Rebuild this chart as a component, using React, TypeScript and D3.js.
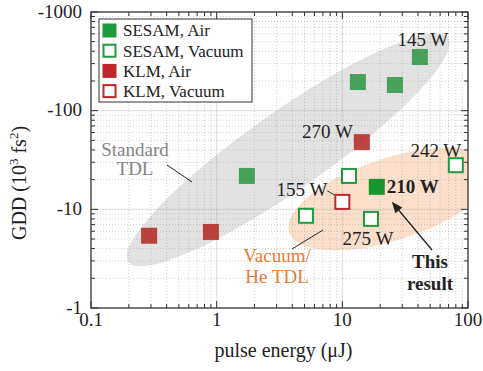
import * as d3 from 'd3'
import { useEffect, useRef } from 'react'

// pulse energy (uJ) and GDD (10^3 fs^2)
const sesamAirEnergy = [1.74, 13.3, 26.2, 41.4]
const sesamAirGdd = [-21.8, -195, -182, -350]
const sesamVacEnergy = [5.13, 11.3, 16.9, 80]
const sesamVacGdd = [-8.6, -21.8, -8.0, -28]
const klmAirEnergy = [0.29, 0.9, 14.3]
const klmAirGdd = [-5.4, -5.9, -48]
const klmVacEnergy = [10]
const klmVacGdd = [-11.9]
const thisEnergy = [18.8]
const thisGdd = [-16.9]

const xTicks = [0.1, 1, 10, 100]
const xTickLabels = ['0.1', '1', '10', '100']
const yTicks = [-1, -10, -100, -1000]
const yTickLabels = ['-1', '-10', '-100', '-1000']

const legendLabels = ['SESAM, Air', 'SESAM, Vacuum', 'KLM, Air', 'KLM, Vacuum']

const GREEN = '#1f9a3c'
const RED = '#c0262c'
const FONT = "'Liberation Serif', 'Times New Roman', serif"

export default function App() {
  const svgRef = useRef<SVGSVGElement | null>(null)

  useEffect(() => {
    if (!svgRef.current) return
    const svg = d3.select(svgRef.current)
    svg.selectAll('*').remove()

    const width = 483
    const height = 371
    const margin = { top: 12, right: 15, bottom: 63, left: 91 }
    const left = margin.left
    const right = width - margin.right
    const top = margin.top
    const bottom = height - margin.bottom

    const x = d3.scaleLog().domain([0.1, 100]).range([left, right])
    const y = d3.scaleLog().domain([-1, -1000]).range([bottom, top])

    svg.attr('font-family', FONT)

    svg.append('defs').append('clipPath').attr('id', 'plotclip')
      .append('rect')
      .attr('x', left).attr('y', top)
      .attr('width', right - left).attr('height', bottom - top)

    // shaded regions
    const regions = svg.append('g').attr('clip-path', 'url(#plotclip)')
    regions.append('ellipse')
      .attr('rx', 195).attr('ry', 39)
      .attr('transform', `translate(${x(3.7)},${y(-40)}) rotate(-35)`)
      .attr('fill', '#e2e2e2')
    regions.append('ellipse')
      .attr('rx', 108).attr('ry', 41)
      .attr('transform', `translate(${x(24.8)},${y(-12.7)}) rotate(-18)`)
      .attr('fill', '#fbdfcb')

    // grid
    const minorX: number[] = []
    ;[0.1, 1, 10].forEach((d) => d3.range(2, 10).forEach((k) => minorX.push(d * k)))
    const minorY: number[] = []
    ;[1, 10, 100].forEach((d) => d3.range(2, 10).forEach((k) => minorY.push(-d * k)))

    const grid = svg.append('g')
    grid.selectAll('line.mx').data(minorX).join('line')
      .attr('x1', (d) => x(d)).attr('x2', (d) => x(d))
      .attr('y1', top).attr('y2', bottom)
      .attr('stroke', 'rgba(150,150,150,0.45)').attr('stroke-dasharray', '1,2')
    grid.selectAll('line.my').data(minorY).join('line')
      .attr('y1', (d) => y(d)).attr('y2', (d) => y(d))
      .attr('x1', left).attr('x2', right)
      .attr('stroke', 'rgba(150,150,150,0.45)').attr('stroke-dasharray', '1,2')
    grid.selectAll('line.Mx').data(xTicks.slice(1, -1)).join('line')
      .attr('x1', (d) => x(d)).attr('x2', (d) => x(d))
      .attr('y1', top).attr('y2', bottom)
      .attr('stroke', 'rgba(170,170,170,0.4)')
    grid.selectAll('line.My').data(yTicks.slice(1, -1)).join('line')
      .attr('y1', (d) => y(d)).attr('y2', (d) => y(d))
      .attr('x1', left).attr('x2', right)
      .attr('stroke', 'rgba(170,170,170,0.4)')

    // ticks on all four sides, pointing inward
    const ticks = svg.append('g').attr('stroke', '#333').attr('stroke-width', 1)
    const addX = (vals: number[], len: number) => {
      vals.forEach((v) => {
        ticks.append('line').attr('x1', x(v)).attr('x2', x(v)).attr('y1', bottom).attr('y2', bottom - len)
        ticks.append('line').attr('x1', x(v)).attr('x2', x(v)).attr('y1', top).attr('y2', top + len)
      })
    }
    const addY = (vals: number[], len: number) => {
      vals.forEach((v) => {
        ticks.append('line').attr('y1', y(v)).attr('y2', y(v)).attr('x1', left).attr('x2', left + len)
        ticks.append('line').attr('y1', y(v)).attr('y2', y(v)).attr('x1', right).attr('x2', right - len)
      })
    }
    addX(minorX, 4)
    addX(xTicks, 7)
    addY(minorY, 4)
    addY(yTicks, 7)

    svg.append('rect')
      .attr('x', left).attr('y', top)
      .attr('width', right - left).attr('height', bottom - top)
      .attr('fill', 'none').attr('stroke', '#333').attr('stroke-width', 1.3)

    // tick labels
    svg.selectAll('text.xt').data(xTicks).join('text')
      .attr('x', (d) => x(d)).attr('y', bottom + 18)
      .attr('text-anchor', 'middle').attr('font-size', 19).attr('fill', '#222')
      .text((d, i) => xTickLabels[i])
    svg.selectAll('text.yt').data(yTicks).join('text')
      .attr('x', left - 9).attr('y', (d) => y(d) - 1).attr('dy', '0.35em')
      .attr('text-anchor', 'end').attr('font-size', 19).attr('fill', '#222')
      .text((d, i) => yTickLabels[i])

    // axis titles
    svg.append('text')
      .attr('x', (left + right) / 2 + 4).attr('y', 357)
      .attr('text-anchor', 'middle').attr('font-size', 20).attr('fill', '#222')
      .text('pulse energy (\u03bcJ)')
    const yl = svg.append('text')
      .attr('transform', `translate(26,183) rotate(-90)`)
      .attr('text-anchor', 'middle').attr('font-size', 20).attr('fill', '#222')
    yl.append('tspan').text('GDD (10')
    yl.append('tspan').attr('font-size', 13).attr('dy', -8).text('3')
    yl.append('tspan').attr('dy', 8).text(' fs')
    yl.append('tspan').attr('font-size', 13).attr('dy', -8).text('2')
    yl.append('tspan').attr('dy', 8).text(')')

    // markers
    const s = 16
    const pts = (ex: number[], gy: number[]) => ex.map((e, i) => ({ e, g: gy[i] }))
    const marks = svg.append('g')
    const filled = (data: { e: number, g: number }[], color: string, op: number) => {
      marks.selectAll(null).data(data).join('rect')
        .attr('x', (d) => x(d.e) - s / 2).attr('y', (d) => y(d.g) - s / 2)
        .attr('width', s).attr('height', s)
        .attr('fill', color).attr('fill-opacity', op)
    }
    const open = (data: { e: number, g: number }[], color: string) => {
      marks.selectAll(null).data(data).join('rect')
        .attr('x', (d) => x(d.e) - 7).attr('y', (d) => y(d.g) - 7)
        .attr('width', 14).attr('height', 14)
        .attr('fill', 'white').attr('stroke', color).attr('stroke-width', 2)
    }
    filled(pts(sesamAirEnergy, sesamAirGdd), '#2e9440', 0.85)
    filled(pts(klmAirEnergy, klmAirGdd), '#b3261e', 0.85)
    open(pts(sesamVacEnergy, sesamVacGdd), GREEN)
    open(pts(klmVacEnergy, klmVacGdd), RED)
    filled(pts(thisEnergy, thisGdd), '#16962f', 1)

    // annotations
    const ann = svg.append('g').attr('font-size', 19).attr('fill', '#222')
    const P = (e: number, g: number) => [x(e), y(g)]
    const [p145x, p145y] = P(sesamAirEnergy[3], sesamAirGdd[3])
    ann.append('text').attr('x', p145x + 3).attr('y', p145y - 11).attr('text-anchor', 'middle').text('145 W')
    const [p270x, p270y] = P(klmAirEnergy[2], klmAirGdd[2])
    ann.append('text').attr('x', p270x - 9).attr('y', p270y - 4).attr('text-anchor', 'end').text('270 W')
    const [p242x, p242y] = P(sesamVacEnergy[3], sesamVacGdd[3])
    ann.append('text').attr('x', p242x - 20).attr('y', p242y - 8).attr('text-anchor', 'middle').text('242 W')
    const [p155x, p155y] = P(klmVacEnergy[0], klmVacGdd[0])
    ann.append('text').attr('x', p155x - 15).attr('y', p155y - 6).attr('text-anchor', 'end').text('155 W')
    ann.append('line')
      .attr('x1', p155x - 15).attr('y1', p155y - 11).attr('x2', p155x - 8).attr('y2', p155y - 7)
      .attr('stroke', '#333').attr('stroke-width', 1)
    const [p275x, p275y] = P(sesamVacEnergy[2], sesamVacGdd[2])
    ann.append('text').attr('x', p275x - 3).attr('y', p275y + 26).attr('text-anchor', 'middle').text('275 W')
    const [p210x, p210y] = P(thisEnergy[0], thisGdd[0])
    ann.append('text').attr('x', p210x + 10).attr('y', p210y + 6).attr('font-weight', 'bold').text('210 W')
    ann.append('text').attr('x', 430).attr('y', 268).attr('text-anchor', 'middle').attr('font-weight', 'bold').text('This')
    ann.append('text').attr('x', 430).attr('y', 290).attr('text-anchor', 'middle').attr('font-weight', 'bold').text('result')

    // arrow to this result
    const tipX = p210x + 15
    const tipY = p210y + 15
    const tailX = 432
    const tailY = 250
    const ang = Math.atan2(tipY - tailY, tipX - tailX)
    const hl = 11
    const hw = 4.5
    const bx = tipX - hl * Math.cos(ang)
    const by = tipY - hl * Math.sin(ang)
    ann.append('line').attr('x1', tailX).attr('y1', tailY).attr('x2', bx).attr('y2', by)
      .attr('stroke', '#222').attr('stroke-width', 1.3)
    ann.append('path')
      .attr('d', `M${tipX},${tipY}L${bx - hw * Math.sin(ang)},${by + hw * Math.cos(ang)}L${bx + hw * Math.sin(ang)},${by - hw * Math.cos(ang)}Z`)
      .attr('fill', '#222')

    // region labels
    const std = svg.append('g').attr('font-size', 19).attr('fill', '#858585').attr('text-anchor', 'middle')
    std.append('text').attr('x', 135).attr('y', 156).text('Standard')
    std.append('text').attr('x', 135).attr('y', 175).text('TDL')
    svg.append('line').attr('x1', 167).attr('y1', 165).attr('x2', 192).attr('y2', 182)
      .attr('stroke', '#222').attr('stroke-width', 1)
    const vac = svg.append('g').attr('font-size', 19).attr('fill', '#e97b35').attr('text-anchor', 'middle')
    vac.append('text').attr('x', 277).attr('y', 262).text('Vacuum/')
    vac.append('text').attr('x', 277).attr('y', 283).text('He TDL')
    svg.append('line').attr('x1', 292).attr('y1', 249).attr('x2', 323).attr('y2', 230)
      .attr('stroke', '#222').attr('stroke-width', 1)

    // legend
    const lg = svg.append('g')
    lg.append('rect').attr('x', 99).attr('y', 19).attr('width', 153).attr('height', 83)
      .attr('fill', 'white').attr('stroke', '#333').attr('stroke-width', 1)
    legendLabels.forEach((label, i) => {
      const cy = 30.5 + i * 20.2
      const isOpen = i % 2 === 1
      const color = i < 2 ? GREEN : RED
      lg.append('rect')
        .attr('x', isOpen ? 103.5 : 102.5).attr('y', cy - (isOpen ? 6 : 7))
        .attr('width', isOpen ? 12 : 14).attr('height', isOpen ? 12 : 14)
        .attr('fill', isOpen ? 'white' : color)
        .attr('stroke', isOpen ? color : 'none').attr('stroke-width', 2)
      lg.append('text').attr('x', 123).attr('y', cy).attr('dy', '0.35em')
        .attr('font-size', 17).attr('fill', '#222').text(label)
    })
  }, [])

  return (
    <svg ref={svgRef} width={483} height={371}
      style={{ position: 'fixed', top: 0, left: 0, background: 'white' }} />
  )
}
